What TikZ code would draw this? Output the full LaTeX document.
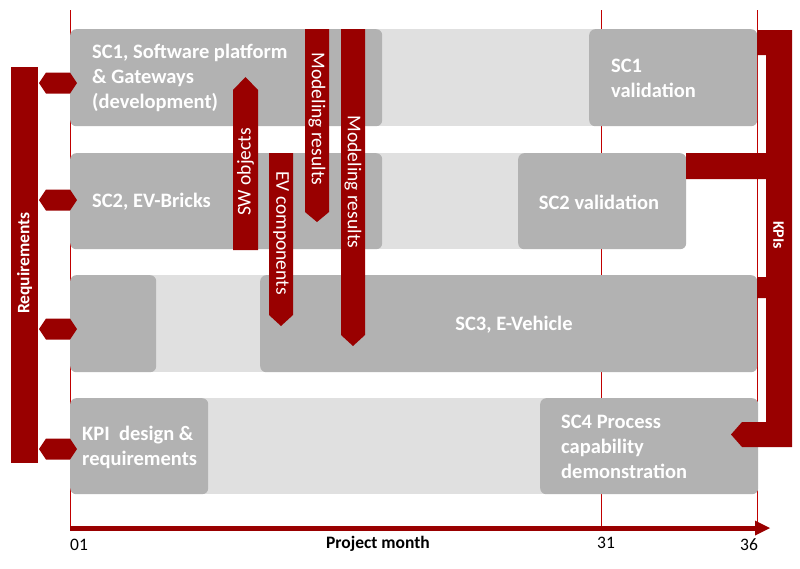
\documentclass[tikz,border=0pt]{standalone}
\usepackage{fontspec}
\setmainfont{Carlito}
\definecolor{dred}{HTML}{990000}
\definecolor{lred}{HTML}{C00000}
\definecolor{dgrey}{HTML}{B2B2B2}
\definecolor{lgrey}{HTML}{E0E0E0}
\tikzset{
  dbox/.style={fill=dgrey, draw=none, rounded corners=6pt, anchor=north west, inner sep=0pt},
  lbar/.style={fill=lgrey, draw=none},
  boxtext/.style={text=white, font=\bfseries\fontsize{20.5}{25}\selectfont, align=left, inner sep=0pt},
  arrtext/.style={text=white, font=\fontsize{19.5}{21}\selectfont, inner sep=0pt},
  sidetext/.style={text=white, font=\bfseries\fontsize{16}{18}\selectfont, inner sep=0pt},
  redshape/.style={fill=dred, draw=none},
  gridline/.style={draw=lred, line width=1pt},
  axlabel/.style={font=\fontsize{17.5}{20}\selectfont, inner sep=0pt}
}
\begin{document}
\begin{tikzpicture}[x=1pt,y=-1pt]
\useasboundingbox (0,0) rectangle (800,568);
% grid lines
\coordinate (g1t) at (70,10); \coordinate (g1b) at (70,530);
\coordinate (g2t) at (601,10); \coordinate (g2b) at (601,530);
\coordinate (g3t) at (757,10); \coordinate (g3b) at (757,530);
\draw[gridline] (g1t) -- (g1b);
\draw[gridline] (g2t) -- (g2b);
\draw[gridline] (g3t) -- (g3b);
% light bars
\fill[lbar] (376,29) rectangle (595,126);
\fill[lbar] (376,153) rectangle (524,249);
\fill[lbar] (150,275) rectangle (266,372);
\fill[lbar] (200,398) rectangle (546,494);
% dark boxes
\node[dbox, minimum width=312pt, minimum height=97pt] (sc1) at (70,29) {};
\node[dbox, minimum width=168pt, minimum height=97pt] (sc1v) at (589,29) {};
\node[dbox, minimum width=312pt, minimum height=96pt] (sc2) at (70,153) {};
\node[dbox, minimum width=168pt, minimum height=96pt] (sc2v) at (518,153) {};
\node[dbox, minimum width=86pt, minimum height=97pt] (sc3a) at (70,275) {};
\node[dbox, minimum width=497pt, minimum height=97pt] (sc3) at (260,275) {};
\node[dbox, minimum width=138pt, minimum height=96pt] (kpid) at (70,398) {};
\node[dbox, minimum width=218pt, minimum height=96pt] (sc4) at (540,398) {};
% box texts
\node[boxtext, anchor=west] (t1) at (92,78) {SC1, Software platform\\\& Gateways\\(development)};
\node[boxtext, anchor=west] (t1v) at (611,78) {SC1\\validation};
\node[boxtext, anchor=west] (t2) at (92,202) {SC2, EV-Bricks};
\node[boxtext] (t2v) at (599,202) {SC2 validation};
\node[boxtext] (t3) at (514,325) {SC3, E-Vehicle};
\node[boxtext, anchor=west] (t4a) at (82,447) {KPI\ \ design \&\\requirements};
\node[boxtext, anchor=west] (t4) at (561,447) {SC4 Process\\capability\\demonstration};
% requirements bar
\fill[redshape] (11,67) rectangle (38,463);
\node[sidetext, font=\bfseries\fontsize{17.5}{19}\selectfont, rotate=90] (req) at (24.5,263) {Requirements};
\foreach \cy/\nm in {83/h1,200/h2,329/h3,449/h4}{
  \fill[redshape] (39,\cy) -- (46,\cy-10.5) -- (70,\cy-10.5) -- (77,\cy) -- (70,\cy+10.5) -- (46,\cy+10.5) -- cycle;
}
% vertical arrows
\fill[redshape] (233,250) -- (233,90) -- (245.5,77) -- (258,90) -- (258,250) -- cycle;
\node[arrtext, rotate=90] (sw) at (245.5,172) {SW objects};
\fill[redshape] (269,153) -- (293,153) -- (293,315) -- (281,326) -- (269,315) -- cycle;
\node[arrtext, rotate=-90] (ev) at (281,233) {EV components};
\fill[redshape] (305,29) -- (329,29) -- (329,212) -- (317,222) -- (305,212) -- cycle;
\node[arrtext, rotate=-90] (mr1) at (317,119) {Modeling results};
\fill[redshape] (341,29) -- (365,29) -- (365,335) -- (353,346) -- (341,335) -- cycle;
\node[arrtext, rotate=-90] (mr2) at (353,182) {Modeling results};
% KPI bracket
\fill[redshape] (757,30) -- (792,30) -- (792,447) -- (742,447) -- (731,434.5) -- (742,422) -- (766,422) -- (766,298) -- (757,298) -- (757,277) -- (766,277) -- (766,179) -- (686,179) -- (686,153) -- (766,153) -- (766,55) -- (757,55) -- cycle;
\node[sidetext, rotate=-90] (kpis) at (778.5,235) {KPIs};
% timeline
\coordinate (ax0) at (70,528);
\coordinate (ax1) at (755,528);
\draw[dred, line width=5pt] (ax0) -- (ax1);
\fill[redshape] (755,520.5) -- (770,528) -- (755,535.5) -- cycle;
\node[axlabel] (m01) at (79,545) {01};
\node[axlabel, font=\bfseries\fontsize{17.5}{19}\selectfont] (pm) at (378,544) {Project month};
\node[axlabel] (m31) at (606,543) {31};
\node[axlabel] (m36) at (749,545) {36};
\end{tikzpicture}
\end{document}
